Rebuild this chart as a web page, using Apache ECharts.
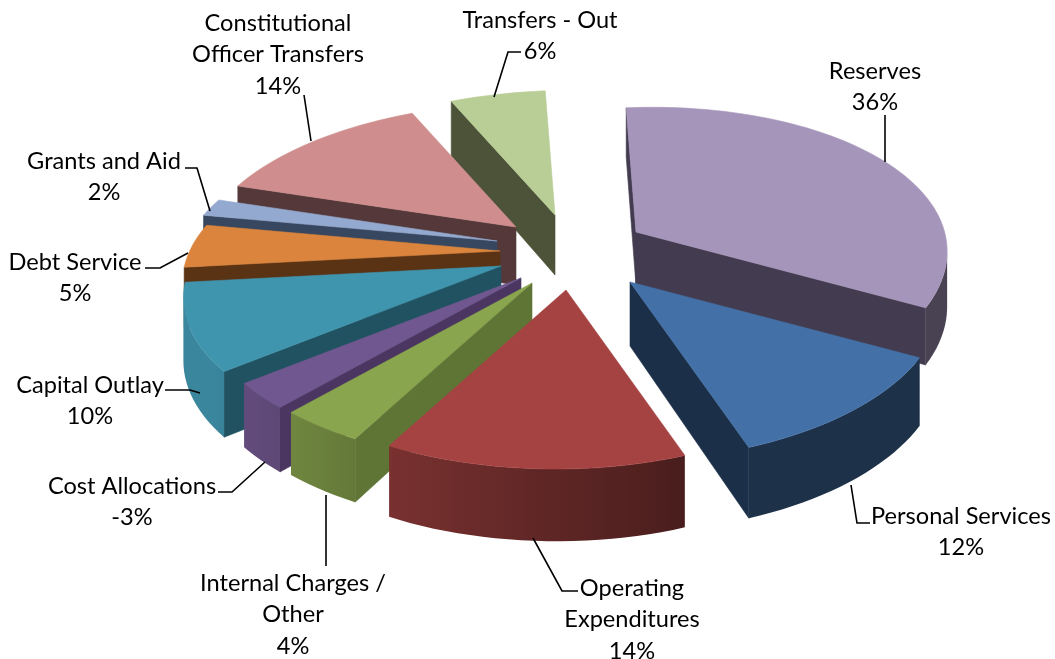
<!DOCTYPE html>
<html><head><meta charset="utf-8">
<style>html,body{margin:0;padding:0;background:#fff}#c{width:1055px;height:659px}</style>
<script src="https://cdn.jsdelivr.net/npm/echarts@6/dist/echarts.min.js"></script>
</head><body><div id="c"></div>
<script>
// ---- chart data ----
const categories = ['Reserves','Personal Services','Operating\nExpenditures','Internal Charges /\nOther','Cost Allocations','Capital Outlay','Debt Service','Grants and Aid','Constitutional\nOfficer Transfers','Transfers - Out'];
const percents = [36,12,14,4,-3,10,5,2,14,6];

// ---- styling ----
const topColors  = ['#A695BA','#4370A6','#A54342','#89A54E','#71578F','#4095AE','#DB843D','#93A9CF','#CF8E8D','#B9CD96'];
const sideColors = ['#433C50','#1B2F48','#491A18','#5F7536','#4A3660','#205262','#5A3214','#37475F','#55393A','#4C5338'];
// ---- 3D pie layout: exploded offset and extrusion depth per slice ----
const pieCenter = [530,255];
const startAngle = 2;
const explodeX = [106,100,36,2,-9,-29,-30,-33,-14,25];
const explodeY = [-23,27,35,28,23,11,-4,-14,-28,-40];
const depths   = [54,64,65,58,60,62,60,58,58,60];
const radiusXRight = 302, radiusXLeft = 316, radiusY = 146, shearX = -22, shearY = -17, perspX = 0.17, perspY = 0.18, perspDepth = 0.1;
// ---- label layout: centre of first line, and leader polyline ----
const labelX = [875,961,632,293,132,90,75,104,278,540];
const labelY = [71,516,588,583,486,385,262,161,23,20];
const leaders = [
 [[885,115],[885,162]],
 [[870,523],[857,523],[851,485]],
 [[578,591],[562,591],[533,538]],
 [[326,566],[326,495]],
 [[218,492],[232,492],[265,462]],
 [[165,390],[190,390],[200,393]],
 [[145,268],[160,268],[188,253]],
 [[185,168],[197,168],[210,211]],
 [[304,95],[311,141]],
 [[521,52],[508,52],[494,97]]
];
const fontFamily = 'Lato, "Open Sans", sans-serif', fontSize = 23.6, lineHeight = 31.5;

const magnitudes = percents.map(Math.abs);
const total = magnitudes.reduce((a,b)=>a+b,0);
const toAngle = v => v/total*360;
const starts = []; { let s = startAngle; magnitudes.forEach(m=>{starts.push(s); s+=toAngle(m);}); }

function rimOffset(deg){
  const t = deg*Math.PI/180, x = Math.sin(t), y = Math.cos(t);
  const a = x<0 ? radiusXLeft : radiusXRight;
  return { dx:(a*x+shearX*y)/(1+perspX*y), dy:(-radiusY*y+shearY*x)/(1+perspY*y), d:1/(1+perspDepth*y) };
}
function hex2rgb(h){return [1,3,5].map(i=>parseInt(h.substr(i,2),16));}
function shade(hex,f){return 'rgb('+hex2rgb(hex).map(c=>Math.round(c*f)).join(',')+')';}
function rimLight(deg){ // rim gets lighter from the right side round to the left
  const t = Math.min(1,Math.max(0,(deg-165)/75));
  return 0.44+t*0.46;
}
const centroidY = starts.map((s,i)=>{
  const o = rimOffset(s+toAngle(magnitudes[i])/2);
  return pieCenter[1]+explodeY[i]+o.dy*0.6;
});
const rank = centroidY.map(v=>centroidY.filter(w=>w<v).length);

function poly(points,fill,z2){
  return {type:'polygon',z2,shape:{points},style:{fill,stroke:typeof fill==='string'?fill:null,lineWidth:0.6}};
}
function renderSlice(params,api){
  const i = api.value(0), sweep = toAngle(api.value(1)), s0 = starts[i];
  const ax = pieCenter[0]+explodeX[i], ay = pieCenter[1]+explodeY[i], h = depths[i], z = rank[i]*10+1;
  const children = [];
  const rim = []; const n = Math.max(4,Math.ceil(sweep/2));
  for(let k=0;k<=n;k++){
    const deg = s0+sweep*k/n, o = rimOffset(deg);
    rim.push({deg,x:ax+o.dx,y:ay+o.dy,h:h*o.d});
  }
  const first = rim[0], last = rim[n];
  if(first.x<ax) children.push(poly([[ax,ay],[first.x,first.y],[first.x,first.y+first.h],[ax,ay+h]],sideColors[i],z));
  if(last.x>ax)  children.push(poly([[ax,ay],[last.x,last.y],[last.x,last.y+last.h],[ax,ay+h]],sideColors[i],z));
  // visible part of the outer wall, as one polygon with a left-to-right gradient
  const vis = rim.filter((p,k)=> (k<n && rim[k+1].x<p.x) || (k>0 && p.x<rim[k-1].x));
  if(vis.length>1){
    const xs = vis.map(p=>p.x), minX = Math.min(...xs), maxX = Math.max(...xs), span = Math.max(1,maxX-minX);
    const stops = vis.slice().sort((p,q)=>p.x-q.x).map(p=>({offset:(p.x-minX)/span,color:shade(topColors[i],rimLight(p.deg))}));
    const fill = {type:'linear',x:0,y:0,x2:1,y2:0,colorStops:stops};
    const pts = vis.map(p=>[p.x,p.y]).concat(vis.slice().reverse().map(p=>[p.x,p.y+p.h]));
    children.push({type:'polygon',z2:z+1,shape:{points:pts},style:{fill}});
  }
  children.push(poly([[ax,ay]].concat(rim.map(p=>[p.x,p.y])),topColors[i],z+2));
  // leader and label
  children.push({type:'polyline',z2:500,shape:{points:leaders[i]},style:{stroke:'#000',lineWidth:1.6,fill:null}});
  children.push({type:'text',z2:501,style:{
    x:labelX[i],y:labelY[i]-lineHeight/2,text:categories[i]+'\n'+percents[i]+'%',
    fill:'#000',font:fontSize+'px '+fontFamily,align:'center',verticalAlign:'top',lineHeight
  }});
  return {type:'group',children};
}
const chart = echarts.init(document.getElementById('c'),null,{renderer:'canvas'});
chart.setOption({
  animation:false,
  backgroundColor:'#fff',
  series:[{type:'custom',coordinateSystem:'none',renderItem:renderSlice,
    data:magnitudes.map((m,i)=>({name:categories[i],value:[i,m]}))}]
});
</script></body></html>
